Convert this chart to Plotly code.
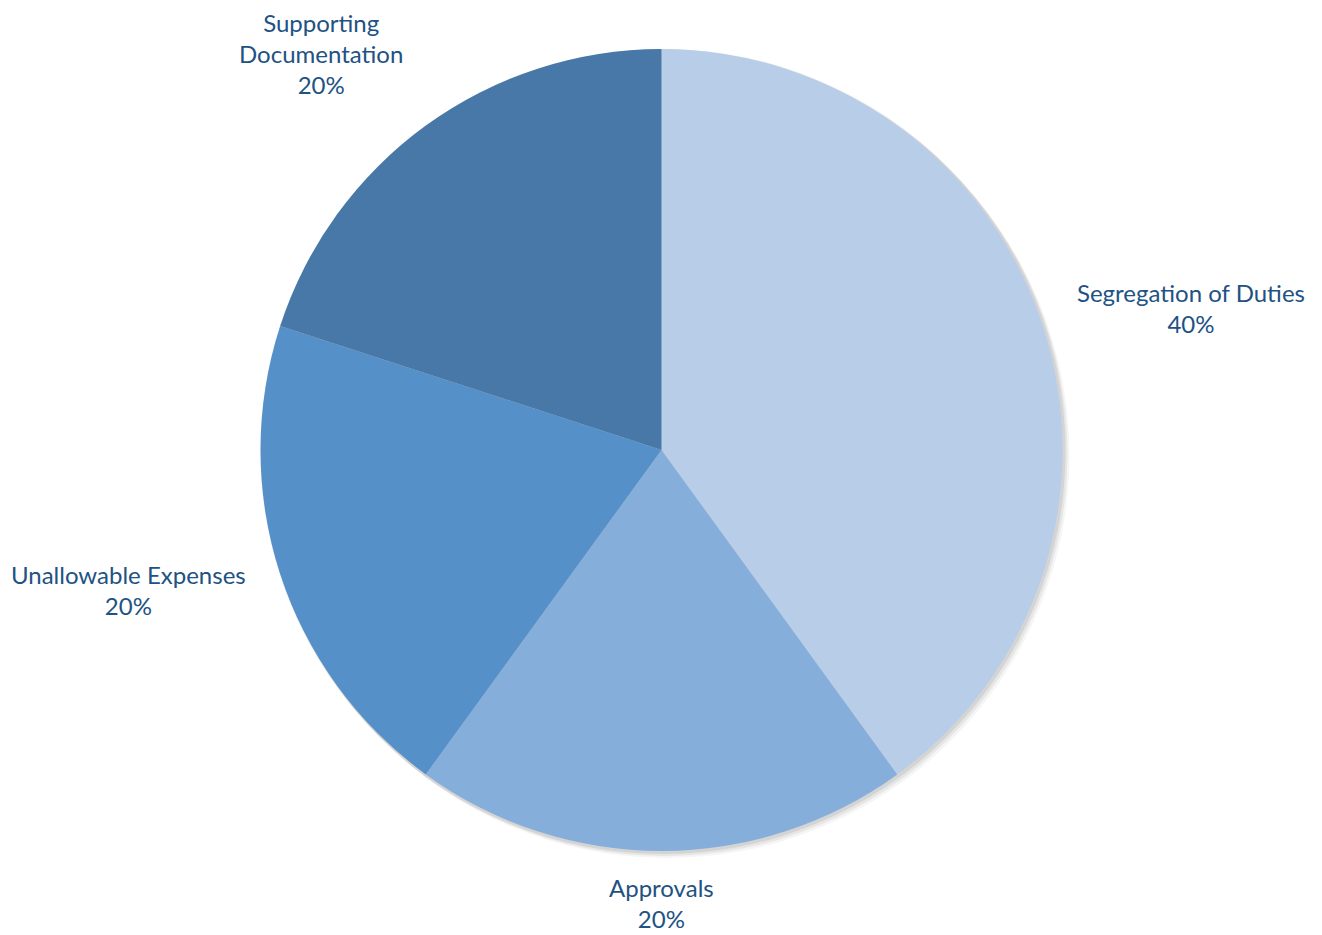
import math
import plotly.graph_objects as go

categories = ["Segregation of Duties", "Approvals", "Unallowable Expenses", "Supporting Documentation"]
values = [40, 20, 20, 20]
colors = ["#B8CDE7", "#86AEDB", "#5591C8", "#4778A8"]
label_text = ["Segregation of Duties", "Approvals", "Unallowable Expenses", "Supporting<br>Documentation"]
label_gap = [34, 20, 34, 36]      # distance of each label from the pie edge (px)
label_yshift = [8, 0, -6, -5]     # small vertical nudges (px)

W, H = 1322, 935
cx, cy, R = 661.5, 450, 401  # pie centre / radius in pixels

dom_x = [(cx - R) / W, (cx + R) / W]
dom_y = [1 - (cy + R) / H, 1 - (cy - R) / H]

fig = go.Figure()

# soft shadow behind the pie
for off, op in [(7, 0.04), (5, 0.06), (3, 0.08)]:
    fig.add_shape(type="circle", xref="paper", yref="paper", layer="below",
                  x0=(cx - R + off - 3) / W, x1=(cx + R + off) / W,
                  y0=1 - (cy + R + off) / H, y1=1 - (cy - R + off - 3) / H,
                  fillcolor=f"rgba(0,0,0,{op})", line=dict(width=0))

fig.add_trace(go.Pie(
    labels=categories, values=values, sort=False, direction="clockwise", rotation=0,
    marker=dict(colors=colors, line=dict(width=0)),
    textinfo="none", hoverinfo="label+percent", showlegend=False,
    domain=dict(x=dom_x, y=dom_y),
))

total = sum(values)
cum = 0
for v, txt, gap, ys in zip(values, label_text, label_gap, label_yshift):
    mid = (cum + v / 2) / total * 2 * math.pi
    cum += v
    dx, dy = math.sin(mid), -math.cos(mid)
    px = cx + (R + gap) * dx
    py = cy + (R + gap) * dy
    if abs(dx) < 0.2:
        xa = "center"
    else:
        xa = "left" if dx > 0 else "right"
    if abs(dy) < 0.5:
        ya = "middle"
    else:
        ya = "top" if dy > 0 else "bottom"
    pct = f"{round(v / total * 100)}%"
    fig.add_annotation(x=px / W, y=1 - py / H, xref="paper", yref="paper",
                       text=f"{txt}<br>{pct}", showarrow=False, xanchor=xa, yanchor=ya,
                       yshift=ys, align="center",
                       font=dict(family="Lato", size=24, color="#215283"))

fig.update_layout(width=W, height=H, margin=dict(l=0, r=0, t=0, b=0),
                  paper_bgcolor="white", plot_bgcolor="white")

fig.write_html("out.html")
